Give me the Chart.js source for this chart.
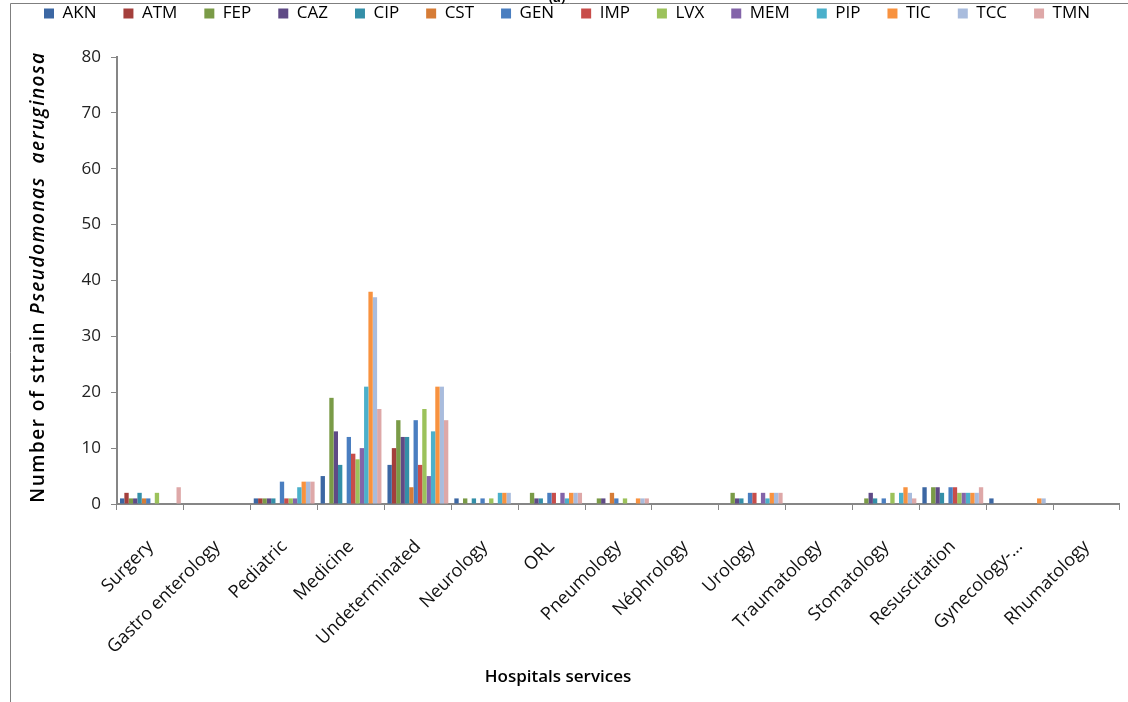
<!DOCTYPE html>
<html>
<head>
<meta charset="utf-8">
<script src="https://cdn.jsdelivr.net/npm/chart.js@4"></script>
<style>
  html, body { margin: 0; padding: 0; background: #fff; }
  #wrap { width: 1128px; height: 702px; position: relative; }
</style>
</head>
<body>
<div id="wrap"><canvas id="myBar"></canvas></div>
<script>
const services = ["Surgery", "Gastro enterology", "Pediatric", "Medicine", "Undeterminated", "Neurology", "ORL",
  "Pneumology", "Néphrology", "Urology", "Traumatology", "Stomatology", "Resuscitation", "Gynecology-...", "Rhumatology"];

const AKN = [1, 0, 1, 5, 7, 1, 0, 0, 0, 0, 0, 0, 3, 1, 0];
const ATM = [2, 0, 1, 0, 10, 0, 0, 0, 0, 0, 0, 0, 0, 0, 0];
const FEP = [1, 0, 1, 19, 15, 1, 2, 1, 0, 2, 0, 1, 3, 0, 0];
const CAZ = [1, 0, 1, 13, 12, 0, 1, 1, 0, 1, 0, 2, 3, 0, 0];
const CIP = [2, 0, 1, 7, 12, 1, 1, 0, 0, 1, 0, 1, 2, 0, 0];
const CST = [1, 0, 0, 0, 3, 0, 0, 2, 0, 0, 0, 0, 0, 0, 0];
const GEN = [1, 0, 4, 12, 15, 1, 2, 1, 0, 2, 0, 1, 3, 0, 0];
const IMP = [0, 0, 1, 9, 7, 0, 2, 0, 0, 2, 0, 0, 3, 0, 0];
const LVX = [2, 0, 1, 8, 17, 1, 0, 1, 0, 0, 0, 2, 2, 0, 0];
const MEM = [0, 0, 1, 10, 5, 0, 2, 0, 0, 2, 0, 0, 2, 0, 0];
const PIP = [0, 0, 3, 21, 13, 2, 1, 0, 0, 1, 0, 2, 2, 0, 0];
const TIC = [0, 0, 4, 38, 21, 2, 2, 1, 0, 2, 0, 3, 2, 1, 0];
const TCC = [0, 0, 4, 37, 21, 2, 2, 1, 0, 2, 0, 2, 2, 1, 0];
const TMN = [3, 0, 4, 17, 15, 0, 2, 1, 0, 2, 0, 1, 3, 0, 0];

const yTicks = [0, 10, 20, 30, 40, 50, 60, 70, 80];

const series = [
  { label: "AKN", data: AKN, color: "#3c67a3" },
  { label: "ATM", data: ATM, color: "#a43f3c" },
  { label: "FEP", data: FEP, color: "#7a9b47" },
  { label: "CAZ", data: CAZ, color: "#5f4a86" },
  { label: "CIP", data: CIP, color: "#348fa8" },
  { label: "CST", data: CST, color: "#d67c36" },
  { label: "GEN", data: GEN, color: "#4a7ec0" },
  { label: "IMP", data: IMP, color: "#c84d4a" },
  { label: "LVX", data: LVX, color: "#9cc25b" },
  { label: "MEM", data: MEM, color: "#8364a9" },
  { label: "PIP", data: PIP, color: "#4bb0cb" },
  { label: "TIC", data: TIC, color: "#f8923f" },
  { label: "TCC", data: TCC, color: "#a9bcdd" },
  { label: "TMN", data: TMN, color: "#dea8a8" },
];

const FONT = "'Open Sans', 'DejaVu Sans', sans-serif";

// make the legend box reach down to the top of the plot, so the legend sits high up
const legendHeight = {
  id: "legendHeight",
  afterInit(chart) {
    const lg = chart.legend;
    if (!lg) return;
    const fit = lg.fit.bind(lg);
    lg.fit = function () {
      fit();
      this.height = 79;
    };
  }
};

// frame, "(a)" and the axis titles (y title has the species name in italics)
const extras = {
  id: "extras",
  afterDraw(chart) {
    const ctx = chart.ctx;
    ctx.save();
    ctx.strokeStyle = "#7f7f7f";
    ctx.lineWidth = 1;
    ctx.beginPath();
    ctx.moveTo(10.5, 702);
    ctx.lineTo(10.5, 3.5);
    ctx.lineTo(1128, 3.5);
    ctx.stroke();

    ctx.fillStyle = "#000";
    ctx.font = "bold 13px " + FONT;
    ctx.textAlign = "center";
    ctx.textBaseline = "alphabetic";
    ctx.fillText("(a)", 557, 2);

    ctx.translate(39, 277);
    ctx.rotate(-Math.PI / 2);
    ctx.letterSpacing = "1.5px";
    const part1 = "Number of strain ";
    const part2 = "Pseudomonas  aeruginosa";
    ctx.font = "600 19px " + FONT;
    const w1 = ctx.measureText(part1).width;
    ctx.font = "italic 600 19px " + FONT;
    const w2 = ctx.measureText(part2).width;
    const x = -(w1 + w2) / 2;
    ctx.textAlign = "left";
    ctx.textBaseline = "middle";
    ctx.font = "600 19px " + FONT;
    ctx.fillText(part1, x, 0);
    ctx.font = "italic 600 19px " + FONT;
    ctx.fillText(part2, x + w1, 0);
    ctx.restore();

    ctx.save();
    ctx.fillStyle = "#000";
    ctx.font = "600 17px " + FONT;
    ctx.textAlign = "center";
    ctx.textBaseline = "middle";
    ctx.fillText("Hospitals services", 558, 677);
    ctx.restore();
  }
};

new Chart(document.getElementById("myBar"), {
  type: "bar",
  data: {
    labels: services,
    datasets: series.map((s) => ({
      label: s.label,
      data: s.data,
      backgroundColor: s.color,
      borderWidth: 0,
      categoryPercentage: 0.91,
      barPercentage: 1,
    })),
  },
  options: {
    responsive: true,
    maintainAspectRatio: false,
    animation: false,
    layout: { padding: { left: 12, right: 6, top: -22, bottom: 0 } },
    plugins: {
      legend: {
        position: "top",
        labels: {
          boxWidth: 10,
          boxHeight: 10,
          padding: 27,
          color: "#000",
          font: { family: FONT, size: 17 },
        },
      },
      tooltip: { enabled: false },
    },
    scales: {
      x: {
        grid: { offset: true, drawOnChartArea: false, drawTicks: true, tickLength: 6, color: "#868686" },
        border: { color: "#868686", width: 2 },
        ticks: {
          maxRotation: 45,
          minRotation: 45,
          autoSkip: false,
          color: "#111",
          padding: 26,
          font: { family: FONT, size: 18 },
        },
        afterFit: (scale) => { scale.height = 198; },
      },
      y: {
        min: 0,
        max: 80,
        afterBuildTicks: (scale) => { scale.ticks = yTicks.map((v) => ({ value: v })); },
        grid: { drawOnChartArea: false, drawTicks: true, tickLength: 6, color: "#868686" },
        border: { color: "#868686", width: 2 },
        ticks: {
          color: "#222",
          padding: 10,
          font: { family: FONT, size: 17 },
        },
        afterFit: (scale) => { scale.width = 105; },
      },
    },
  },
  plugins: [legendHeight, extras],
});
</script>
</body>
</html>
